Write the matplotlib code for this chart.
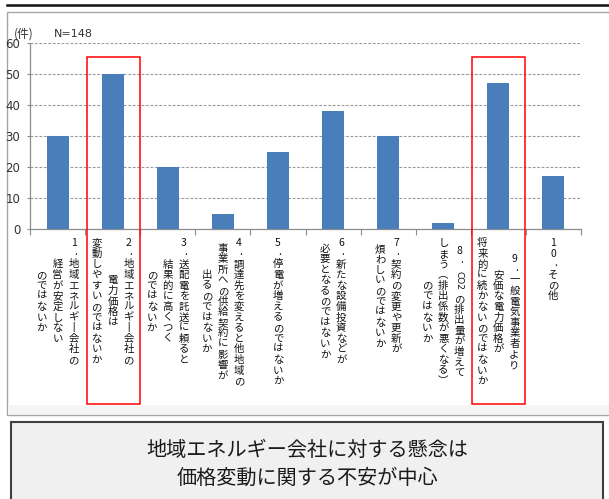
import numpy as np
import matplotlib
matplotlib.use("Agg")
import matplotlib.pyplot as plt
from matplotlib.patches import Rectangle
from matplotlib.lines import Line2D

plt.rcParams['font.family'] = ['Noto Sans CJK JP', 'DejaVu Sans']

# ---- data ----
# each category label: columns separated by "\n" (first column is drawn rightmost)
categories = [
    "1.地域エネルギー会社の\n経営が安定しない\nのではないか",
    "2.地域エネルギー会社の\n電力価格は\n変動しやすいのではないか",
    "3.送配電を託送に頼ると\n結果的に高くつく\nのではないか",
    "4.調達先を変えると他地域の\n事業所への供給契約に影響が\n出るのではないか",
    "5.停電が増えるのではないか",
    "6.新たな設備投資などが\n必要となるのではないか",
    "7.契約の変更や更新が\n煩わしいのではないか",
    "8.CO2の排出量が増えて\nしまう(排出係数が悪くなる)\nのではないか",
    "9.一般電気事業者より\n安価な電力価格が\n将来的に続かないのではないか",
    "10.その他",
]
counts = [30, 50, 20, 5, 25, 38, 30, 2, 47, 17]
highlighted = [1, 8]
yticks = [0, 10, 20, 30, 40, 50, 60]
unit_label = "(件)"
sample_label = "N=148"
summary_lines = ["地域エネルギー会社に対する懸念は", "価格変動に関する不安が中心"]

# ---- figure ----
W, H = 609, 499
fig = plt.figure(figsize=(W / 100, H / 100), dpi=100)
fig.patch.set_facecolor("white")


def fx(x):
    return x / W


def fy(y):
    return 1 - y / H


# outer panel and top rule
fig.add_artist(Rectangle((fx(7), fy(415)), fx(620) - fx(7), fy(12) - fy(415),
                         transform=fig.transFigure, facecolor="white",
                         edgecolor="#a6a6a6", linewidth=1.0, zorder=0))
fig.add_artist(Rectangle((fx(8), fy(414)), fx(620) - fx(8), fy(405) - fy(414),
                         transform=fig.transFigure, facecolor="#f5f5f5",
                         edgecolor="none", zorder=0))
fig.add_artist(Line2D([fx(7), fx(609)], [fy(5), fy(5)], transform=fig.transFigure,
                      color="#111111", linewidth=1.8, zorder=1))

ax_left, ax_right, ax_top, ax_bottom = 30, 581, 43, 229
ax = fig.add_axes([fx(ax_left), fy(ax_bottom), fx(ax_right) - fx(ax_left),
                   fy(ax_top) - fy(ax_bottom)])
ax.set_facecolor("none")

x = np.arange(len(counts))
ax.bar(x, counts, width=0.4, color="#4a7ebb", zorder=3)

ax.set_xlim(-0.5, len(counts) - 0.5)
ax.set_ylim(0, 60)
ax.set_yticks(yticks)
ax.set_yticklabels([str(v) for v in yticks], fontsize=8.5, color="#333333",
                   family=['DejaVu Sans'])
ax.set_xticks(np.arange(-0.5, len(counts), 1.0))
ax.set_xticklabels([])
ax.tick_params(axis="x", direction="out", length=4, width=0.8, color="#8c8c8c")
ax.tick_params(axis="y", direction="out", length=2.5, width=0.8, color="#8c8c8c", pad=4.5)

for v in yticks[1:]:
    ax.axhline(v, color="#9a9a9a", linewidth=0.8, linestyle=(0, (2.5, 1.5)), zorder=1)

for side in ("top", "right"):
    ax.spines[side].set_visible(False)
for side in ("left", "bottom"):
    ax.spines[side].set_color("#8c8c8c")
    ax.spines[side].set_linewidth(0.9)

fig.text(fx(14), fy(34), unit_label, fontsize=8.5, color="#333333", va="center", ha="left")
fig.text(fx(54), fy(34), sample_label, fontsize=8, color="#333333", va="center", ha="left",
         family=['DejaVu Sans'])

# ---- vertical (top-to-bottom) category labels ----
vertical_forms = {"ー": "丨", "(": "︵", ")": "︶"}
pitch = 10.6
col_gap = 16.0
label_top = 238.0


def tokens(line):
    out = []
    i = 0
    while i < len(line):
        if line.startswith("CO2", i):
            out.append(("CO2", 2.5))
            i += 3
        else:
            out.append((line[i], 1.0))
            i += 1
    return out


fig.canvas.draw()
for i, label in enumerate(categories):
    cx = ax.transData.transform((i, 0))[0]
    cols = [tokens(c) for c in label.split("\n")]
    lens = [sum(s for _, s in c) for c in cols]
    block = max(lens)
    n = len(cols)
    for j, col in enumerate(cols):
        colx = cx + ((n - 1) / 2 - j) * col_gap
        y = label_top + (block - lens[j]) * pitch / 2
        for tok, span in col:
            yc = y + span * pitch / 2
            if tok == "CO2":
                fig.text(fx(colx), fy(yc), tok, fontsize=6.5, rotation=-90,
                         ha="center", va="center", color="#111111",
                         family=['DejaVu Sans'])
            elif tok == ".":
                fig.text(fx(colx + 2), fy(yc - 2), tok, fontsize=7.5, ha="center",
                         va="center", color="#111111")
            else:
                fig.text(fx(colx), fy(yc), vertical_forms.get(tok, tok), fontsize=7.5,
                         ha="center", va="center", color="#111111")
            y += span * pitch

# ---- highlight boxes ----
for i in highlighted:
    cx = ax.transData.transform((i, 0))[0]
    fig.add_artist(Rectangle((fx(cx - 26), fy(404)), 53 / W, fy(57) - fy(404),
                             transform=fig.transFigure, facecolor="none",
                             edgecolor="#ff0000", linewidth=1.1, zorder=5))

# ---- summary box ----
fig.add_artist(Rectangle((fx(11), fy(505)), fx(603) - fx(11), fy(422) - fy(505),
                         transform=fig.transFigure, facecolor="#f0f0f0",
                         edgecolor="#404040", linewidth=1.5, zorder=2))
fig.text(0.5 * (fx(11) + fx(603)), fy(450), summary_lines[0], fontsize=14.5,
         ha="center", va="center", color="#1a1a1a", zorder=3)
fig.text(0.5 * (fx(11) + fx(603)), fy(478), summary_lines[1], fontsize=14.5,
         ha="center", va="center", color="#1a1a1a", zorder=3)

fig.savefig("out.png", dpi=100, facecolor="white")
